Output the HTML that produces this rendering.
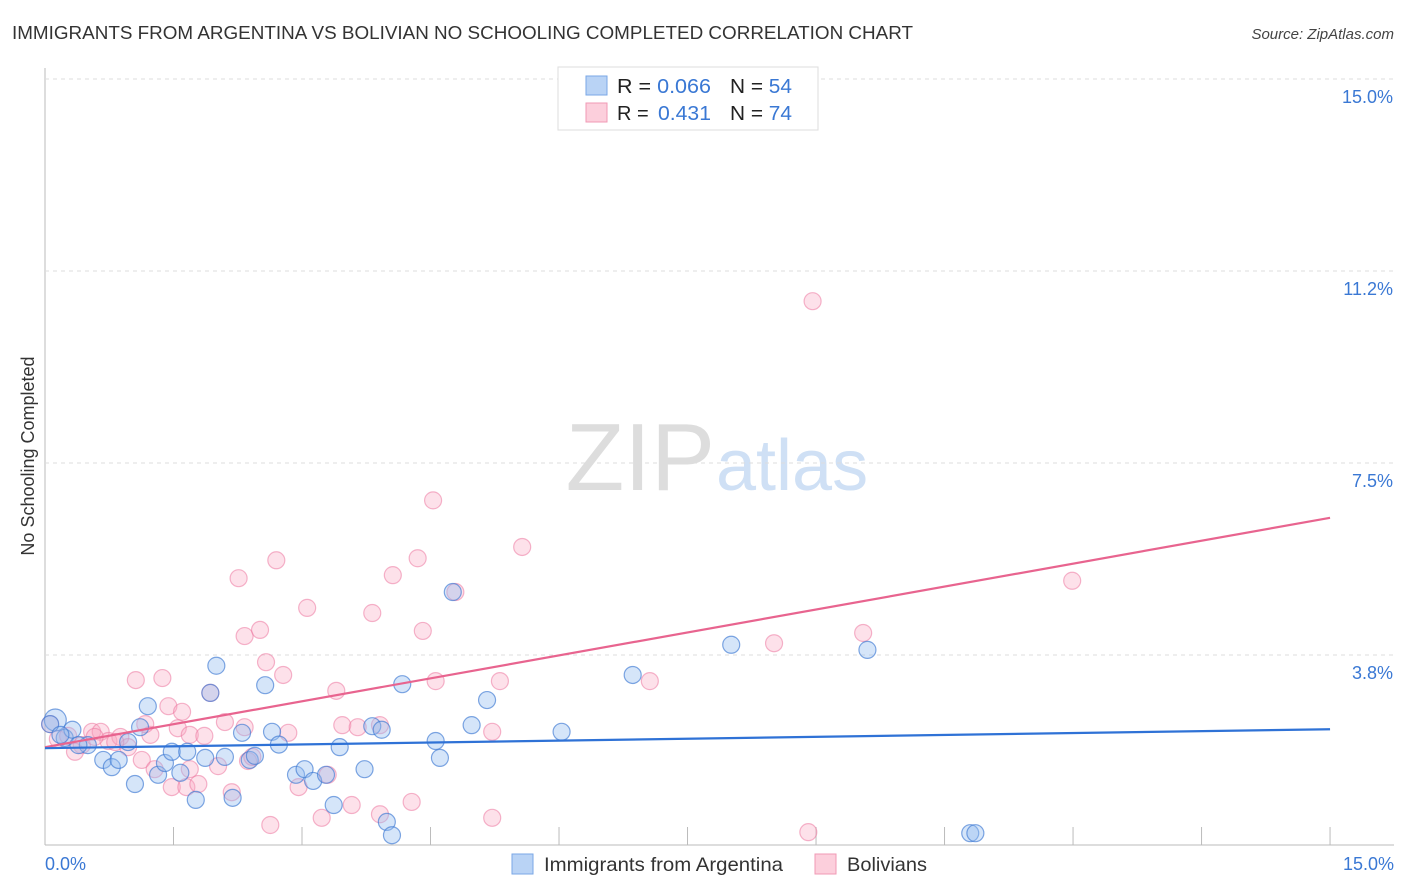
<!DOCTYPE html>
<html><head><meta charset="utf-8"><style>
body{margin:0;background:#fff;font-family:"Liberation Sans",sans-serif;}
#wrap{position:relative;width:1406px;height:892px;overflow:hidden}
svg text{font-family:"Liberation Sans",sans-serif}
</style></head><body>
<div id="wrap">
<svg id="chart" width="1406" height="892">
<text x="12" y="39" font-size="18" fill="#333" textLength="901" lengthAdjust="spacingAndGlyphs">IMMIGRANTS FROM ARGENTINA VS BOLIVIAN NO SCHOOLING COMPLETED CORRELATION CHART</text>
<text x="1394" y="39" font-size="15" fill="#444" font-style="italic" text-anchor="end">Source: ZipAtlas.com</text>
<text x="715" y="490" font-size="96" fill="#ddd" text-anchor="end" font-family="Liberation Serif">ZIP</text>
<text x="716" y="490" font-size="72" fill="#cfe0f5">atlas</text>
<text transform="translate(34,456) rotate(-90)" font-size="18" fill="#333" text-anchor="middle">No Schooling Completed</text>
<g id="grid"></g><g id="pts"></g><g id="lines"></g>
<g>
<rect x="558" y="67" width="260" height="63" fill="#fff" stroke="#ddd"/>
<rect x="586" y="76" width="21" height="19" fill="#b9d3f5" stroke="#7aa7e6"/>
<rect x="586" y="103" width="21" height="19" fill="#fccfdc" stroke="#f09ab5"/>
<text x="617" y="93" font-size="20" fill="#222" textLength="94" lengthAdjust="spacingAndGlyphs">R = <tspan fill="#3a78d4">0.066</tspan></text>
<text x="730" y="93" font-size="20" fill="#222" textLength="62" lengthAdjust="spacingAndGlyphs">N = <tspan fill="#3a78d4">54</tspan></text>
<text x="617" y="120" font-size="20" fill="#222">R = <tspan fill="#3a78d4" x="658" textLength="53" lengthAdjust="spacingAndGlyphs">0.431</tspan></text>
<text x="730" y="120" font-size="20" fill="#222" textLength="62" lengthAdjust="spacingAndGlyphs">N = <tspan fill="#3a78d4">74</tspan></text>
</g>
<g>
<rect x="512" y="854" width="21" height="20" fill="#b9d3f5" stroke="#7aa7e6"/>
<text x="544" y="871" font-size="19.5" fill="#333" textLength="239" lengthAdjust="spacingAndGlyphs">Immigrants from Argentina</text>
<rect x="815" y="854" width="21" height="20" fill="#fccfdc" stroke="#f09ab5"/>
<text x="847" y="871" font-size="19.5" fill="#333" textLength="80" lengthAdjust="spacingAndGlyphs">Bolivians</text>
</g>
</svg></div>
<script>
const yTicks=[3.75,7.5,11.25,15];
const yTickLabels=["3.8%","7.5%","11.2%","15.0%"];
const xTicks=[0,1.5,3,4.5,6,7.5,9,10.5,12,13.5,15];
const xLabels=["0.0%","15.0%"];
const argX=[0.12,0.23,0.32,0.5,0.39,0.68,0.78,0.86,1.05,0.97,1.11,1.2,1.32,1.4,1.48,1.58,1.66,1.76,1.87,1.93,2.0,2.1,2.19,2.3,2.39,2.45,2.57,2.65,2.73,2.93,3.03,3.13,3.28,3.37,3.44,3.73,3.82,3.93,3.99,4.05,4.17,4.56,4.61,4.76,4.98,5.16,6.03,6.86,8.01,9.6,10.8,10.86,0.06,0.18];
const argY=[2.48,2.13,2.29,1.99,1.99,1.7,1.56,1.7,1.23,2.05,2.34,2.75,1.41,1.64,1.86,1.45,1.86,0.92,1.74,3.01,3.54,1.76,0.96,2.23,1.7,1.78,3.16,2.25,2.0,1.41,1.52,1.29,1.41,0.82,1.95,1.52,2.36,2.29,0.49,0.23,3.18,2.07,1.74,4.98,2.38,2.87,2.25,3.36,3.95,3.85,0.27,0.27,2.4,2.19];
const bolX=[0.06,0.15,0.27,0.43,0.55,0.65,0.74,0.88,0.97,1.06,1.13,1.23,1.28,1.37,1.44,1.48,1.55,1.6,1.65,1.69,1.79,1.86,1.93,2.02,2.1,2.18,2.26,2.33,2.37,2.42,2.51,2.58,2.63,2.7,2.78,2.84,2.96,3.06,3.23,3.3,3.4,3.47,3.58,3.65,3.82,3.91,3.91,4.06,4.28,4.35,4.41,4.53,4.56,4.79,5.22,5.22,5.31,5.57,7.06,8.51,8.91,8.96,9.55,11.99,1.17,0.82,0.58,0.35,2.33,1.69];
const bolY=[2.4,2.11,2.17,1.99,2.25,2.25,2.07,2.15,1.95,3.26,1.7,2.19,1.52,3.3,2.75,1.17,2.32,2.64,1.17,2.19,1.23,2.17,3.01,1.58,2.44,1.07,5.25,4.12,1.68,1.76,4.24,3.61,0.43,5.6,3.36,2.23,1.17,4.67,0.57,1.41,3.05,2.38,0.82,2.34,4.57,0.64,2.38,5.31,0.88,5.64,4.22,6.77,3.24,4.98,0.57,2.25,3.24,5.86,3.24,3.98,0.29,10.66,4.18,5.2,2.4,2.05,2.15,1.86,2.34,1.52];
const argLine=[1.93,2.3], bolLine=[1.95,6.43];
const sx=v=>45+v*85.67, sy=v=>847-v*51.2;
const NS="http://www.w3.org/2000/svg";
const g=document.getElementById('grid');
function mk(t,a,p){const e=document.createElementNS(NS,t);for(const k in a)e.setAttribute(k,a[k]);p.appendChild(e);return e;}
let l=mk('line',{x1:45,x2:1394,y1:845,y2:845,stroke:'#bbb'},g);


l=mk('line',{x1:45,x2:45,y1:68,y2:845,stroke:'#bbb'},g);


yTicks.forEach((t,i)=>{
 const gl=mk('line',{x1:45,x2:1394,y1:sy(t),y2:sy(t),stroke:'#ddd','stroke-dasharray':'4,4'},g);
 
 
 const tx=mk('text',{x:1393,y:sy(t)+24,'font-size':18,fill:'#3a78d4','text-anchor':'end'},g);
 tx.textContent=yTickLabels[i];
 
 
});
xTicks.forEach(t=>{
 const tl=mk('line',{x1:sx(t),x2:sx(t),y1:827,y2:845,stroke:'#bbb'},g);
 
 
});
let xl=mk('text',{x:45,y:870,'font-size':18,fill:'#3a78d4'},g);xl.textContent=xLabels[0];


xl=mk('text',{x:1394,y:870,'font-size':18,fill:'#3a78d4','text-anchor':'end'},g);xl.textContent=xLabels[1];


const P=document.getElementById('pts');
bolX.forEach((x,i)=>{
 const c=mk('circle',{cx:sx(x),cy:sy(bolY[i]),r:8.5,fill:'rgba(248,170,195,0.35)',stroke:'rgba(236,120,160,0.55)','stroke-width':1.2},P);
 
 
});
argX.forEach((x,i)=>{
 const c=mk('circle',{cx:sx(x),cy:sy(argY[i]),r:i==0?11:8.5,fill:'rgba(150,190,240,0.4)',stroke:'rgba(60,120,210,0.65)','stroke-width':1.2},P);
 
 
});
const L=document.getElementById('lines');
let t1=mk('line',{x1:sx(0),x2:sx(15),y1:sy(bolLine[0]),y2:sy(bolLine[1]),stroke:'#e8648f','stroke-width':2.2},L);


let t2=mk('line',{x1:sx(0),x2:sx(15),y1:sy(argLine[0]),y2:sy(argLine[1]),stroke:'#2f72d6','stroke-width':2.2},L);


</script>
</body></html>
